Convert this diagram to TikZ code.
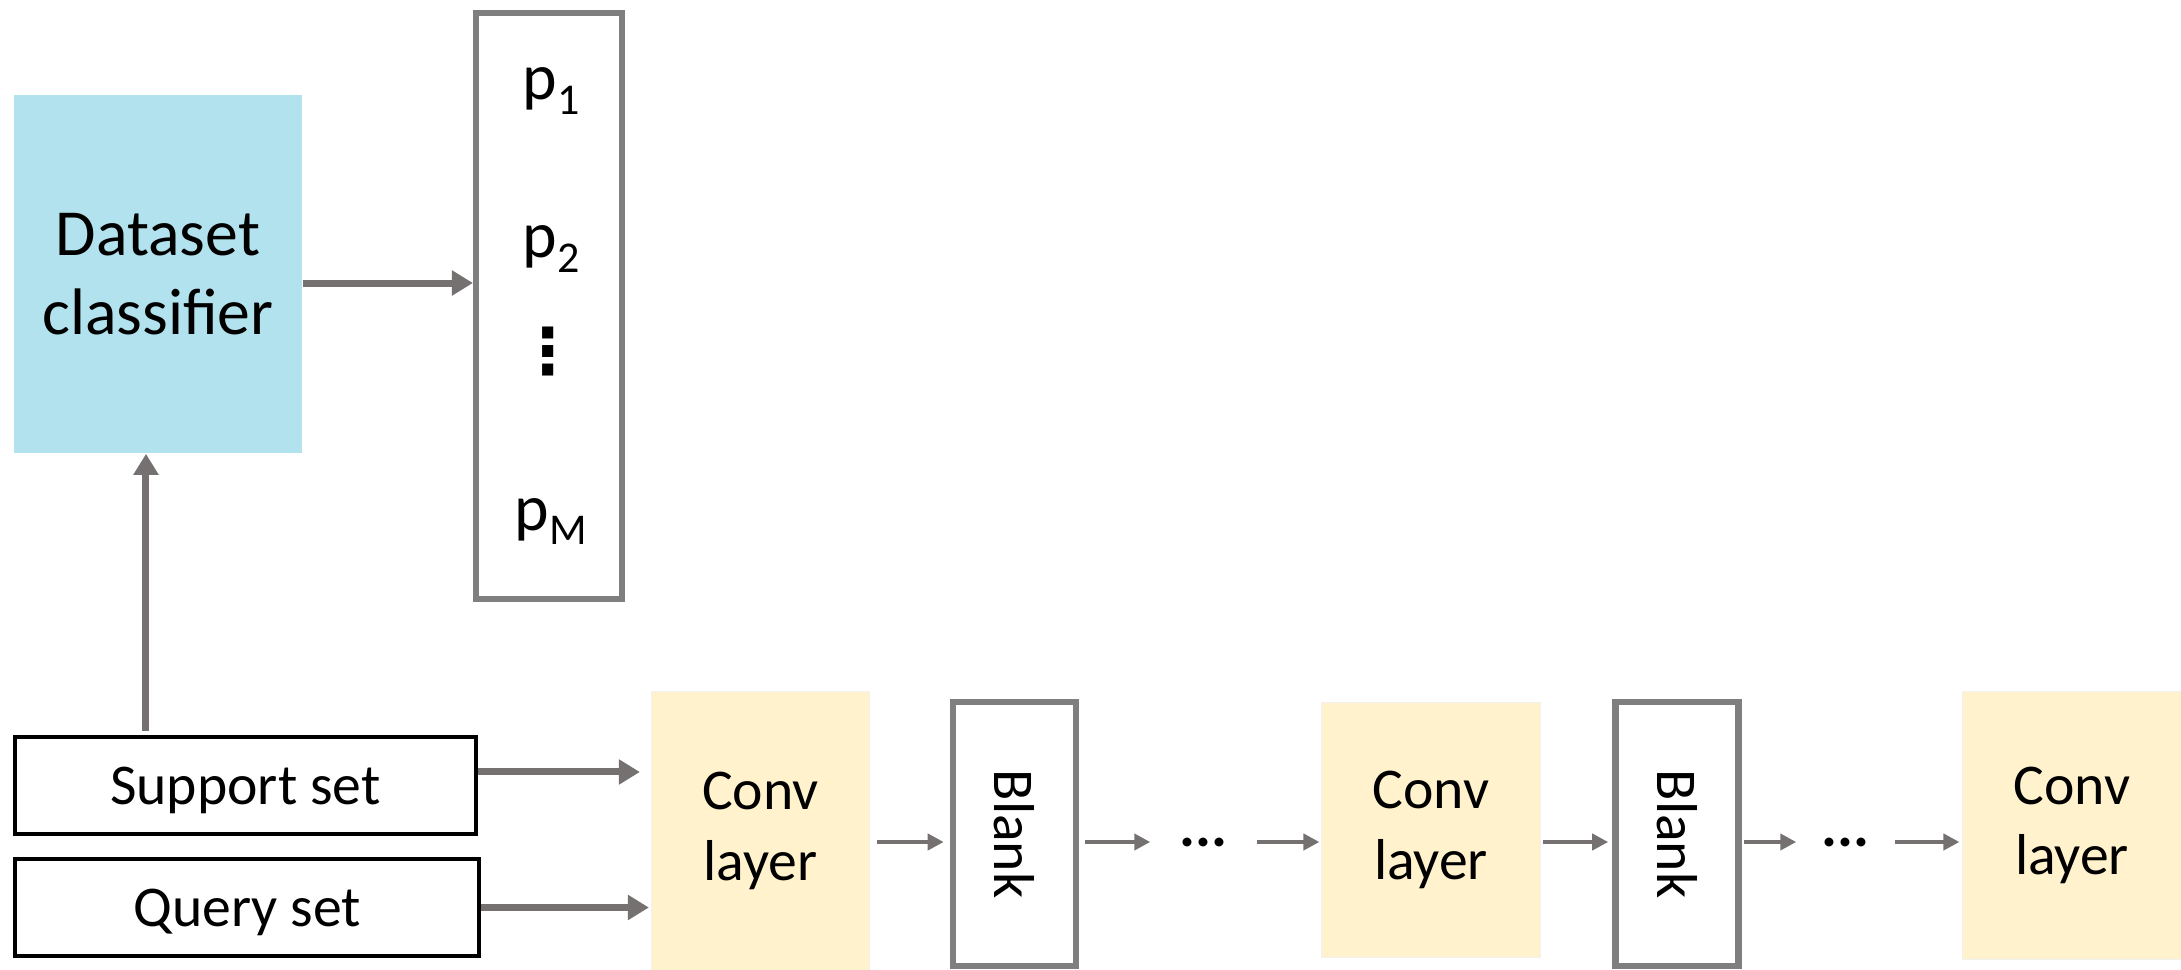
\documentclass[tikz,border=0pt]{standalone}
\usepackage{fontspec}
\setmainfont{Carlito}
\newfontfamily\symbolfont{DejaVu Sans}
\usepackage{graphicx}
\usepackage{tikz}
\usetikzlibrary{arrows.meta}

\definecolor{arrowgray}{HTML}{767171}
\definecolor{boxgray}{HTML}{7F7F7F}
\definecolor{clsblue}{HTML}{B1E2ED}
\definecolor{convyellow}{HTML}{FFF2CC}

\newcommand{\prob}[1]{p\raisebox{-0.22em}{\fontsize{12.5}{12.5}\selectfont #1}}

\begin{document}
\begin{tikzpicture}[x=0.01cm, y=-0.01cm,
        arr/.style={draw=arrowgray, line width=0.07cm, -{Triangle[length=0.21cm, width=0.24cm]}},
        thinarr/.style={draw=arrowgray, line width=0.045cm, -{Triangle[length=0.16cm, width=0.16cm]}},
        setbox/.style={draw=black, line width=0.045cm, inner sep=0, text depth=0pt, minimum height=0.97cm, font=\fontsize{16.4}{20}\selectfont},
        convbox/.style={fill=convyellow, draw=black!6, line width=0.3pt, inner sep=0, align=center, minimum width=2.18cm, font=\fontsize{16.4}{20}\selectfont},
        blankbox/.style={draw=boxgray, line width=0.065cm, inner sep=0, minimum width=1.23cm, minimum height=2.64cm, font=\fontsize{16.4}{20}\selectfont},
        skipnode/.style={inner sep=0, font=\fontsize{17}{20}\selectfont\bfseries},
        plabel/.style={anchor=base, inner sep=1pt, font=\fontsize{18.7}{22.4}\selectfont}]
    \useasboundingbox (0,0) rectangle (2181,970);

    % classifier and its output vector
    \node[fill=clsblue, minimum width=2.88cm, minimum height=3.58cm, align=center, font=\fontsize{18.7}{22.4}\selectfont] (data) at (158,274) {Dataset\\classifier};
    \node[draw=boxgray, line width=0.06cm, minimum width=1.46cm, minimum height=5.86cm] (pbox) at (549,306) {};
    \node[plabel] (p1) at (551,100) {\prob{1}};
    \node[plabel] (p2) at (551,258) {\prob{2}};
    \node[inner sep=0, font=\symbolfont\bfseries\fontsize{18}{18}\selectfont] (pdots) at (548,352) {⋮};
    \node[plabel] (pM) at (551,530) {\prob{M}};

    % inputs and the layer chain
    \node[setbox, minimum width=4.61cm] (support) at (245.5,785.5) {Support set};
    \node[setbox, minimum width=4.64cm] (query) at (247,907.5) {Query set};
    \node[convbox, minimum height=2.78cm] (conv1) at (760.5,831) {Conv\\layer};
    \node[blankbox] (blank1) at (1014.5,834) {\rotatebox{-90}{Blank}};
    \node[skipnode, minimum width=1.05cm] (skip1) at (1203.5,842) {...};
    \node[convbox, minimum height=2.54cm] (conv2) at (1431,830) {Conv\\layer};
    \node[blankbox] (blank2) at (1677,834) {\rotatebox{-90}{Blank}};
    \node[skipnode, minimum width=0.97cm] (skip2) at (1845.5,842) {...};
    \node[convbox, minimum height=2.67cm] (conv3) at (2072,825.5) {Conv\\layer};

    \coordinate (clsout) at ([yshift=-0.09cm]data.east);
    \coordinate (clsin) at ([xshift=-0.12cm]data.south);
    \coordinate (supout) at ([yshift=0.135cm]support.east);

    \draw[arr] (clsout) -- (clsout -| pbox.west);
    \draw[arr, shorten <=0.04cm] (clsin |- support.north) -- (clsin);
    \draw[arr, shorten >=0.11cm] (supout) -- (supout -| conv1.west);
    \draw[arr, shorten >=0.02cm] (query.east) -- (query.east -| conv1.west);

    \draw[thinarr, shorten <=0.07cm, shorten >=0.06cm] (conv1.east |- skip1) -- (blank1.west |- skip1);
    \draw[thinarr, shorten <=0.06cm] (blank1.east |- skip1) -- (skip1.west);
    \draw[thinarr, shorten >=0.02cm] (skip1.east) -- (conv2.west |- skip1);
    \draw[thinarr, shorten <=0.02cm, shorten >=0.04cm] (conv2.east |- skip1) -- (blank2.west |- skip1);
    \draw[thinarr, shorten <=0.02cm] (blank2.east |- skip1) -- (skip2.west);
    \draw[thinarr, shorten >=0.03cm] (skip2.east) -- (conv3.west |- skip1);
\end{tikzpicture}
\end{document}
